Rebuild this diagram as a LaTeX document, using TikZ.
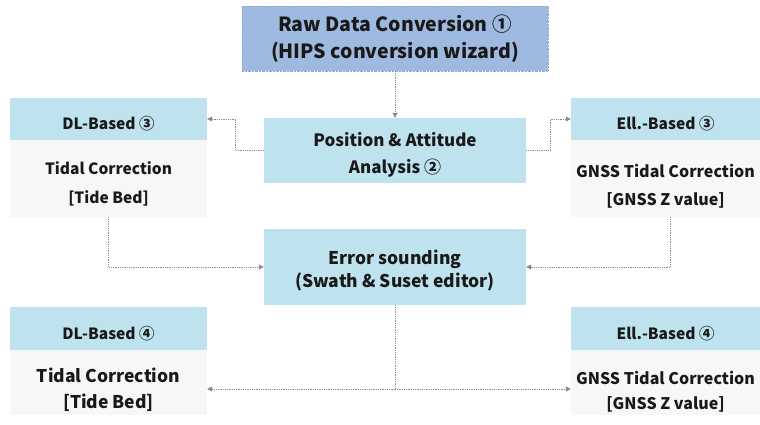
\documentclass[tikz,border=0pt]{standalone}
\usepackage{fontspec}
\setmainfont{Noto Sans CJK KR}
\usetikzlibrary{arrows.meta}
\definecolor{rawblue}{HTML}{9FBAE0}
\definecolor{lightcyan}{HTML}{BEE3EE}
\definecolor{bodygray}{HTML}{F7F7F7}
\definecolor{linegray}{HTML}{8A8A8A}
\tikzset{
  rawbox/.style={fill=rawblue, draw=rawblue!70!gray, densely dotted, inner sep=0pt, align=center, text=black!90},
  midbox/.style={fill=lightcyan, draw=none, inner sep=0pt},
  headbox/.style={fill=lightcyan, draw=none, inner sep=0pt},
  headtxt/.style={inner sep=0pt, align=center, font=\fontsize{15.5}{17}\selectfont\bfseries, text=black!90},
  bodybox/.style={fill=bodygray, draw=none, inner sep=0pt},
  txt/.style={inner sep=0pt, align=center, text=black!90},
  conn/.style={draw=linegray, densely dotted, line width=0.8pt, -{Triangle[length=5pt,width=5pt,fill=linegray]}},
  plain/.style={draw=linegray, densely dotted, line width=0.8pt}
}
\begin{document}
\begin{tikzpicture}[x=1pt,y=-1pt]
\useasboundingbox[fill=white] (0,0) rectangle (760,424);
% boxes
\node[rawbox, minimum width=306, minimum height=65, font=\fontsize{19.5}{27}\selectfont\bfseries] (raw) at (395,38.5) {Raw Data Conversion ①\\(HIPS conversion wizard)};
\node[midbox, minimum width=262, minimum height=65] (pos) at (395,150.5) {};
\node[txt, font=\fontsize{17}{27}\selectfont\bfseries] (post) at (395,155) {Position \& Attitude\\Analysis ②};
\node[midbox, minimum width=262, minimum height=76] (err) at (395,267) {};
\node[txt, font=\fontsize{17.5}{23}\selectfont\bfseries] (errt) at (395,271) {Error sounding\\(Swath \& Suset editor)};
% DL 3
\node[headbox, minimum width=197, minimum height=42] (dl3h) at (108.5,119) {};
\node[headtxt] (dl3ht) at (108.5,123.5) {DL-Based ③};
\node[bodybox, minimum width=197, minimum height=77] (dl3b) at (108.5,178.5) {};
\node[txt, font=\fontsize{15.5}{29}\selectfont\bfseries] (dl3t) at (108.5,184) {Tidal Correction\\{}[Tide Bed]};
% Ell 3
\node[headbox, minimum width=189, minimum height=42] (el3h) at (665.5,119) {};
\node[headtxt] (el3ht) at (665.5,124) {Ell.-Based ③};
\node[bodybox, minimum width=189, minimum height=77] (el3b) at (665.5,178.5) {};
\node[txt, font=\fontsize{16}{28}\selectfont\bfseries] (el3t) at (665.5,186.5) {GNSS Tidal Correction\\{}[GNSS Z value]};
% DL 4
\node[headbox, minimum width=197, minimum height=43] (dl4h) at (108.5,328.5) {};
\node[headtxt] (dl4ht) at (108.5,334) {DL-Based ④};
\node[bodybox, minimum width=197, minimum height=65] (dl4b) at (108.5,382.5) {};
\node[txt, font=\fontsize{17.5}{26}\selectfont\bfseries] (dl4t) at (108.5,390) {Tidal Correction\\{}[Tide Bed]};
% Ell 4
\node[headbox, minimum width=189, minimum height=43] (el4h) at (665.5,328.5) {};
\node[headtxt] (el4ht) at (665.5,334) {Ell.-Based ④};
\node[bodybox, minimum width=189, minimum height=65] (el4b) at (665.5,382.5) {};
\node[txt, font=\fontsize{16}{25}\selectfont\bfseries] (el4t) at (665.5,392) {GNSS Tidal Correction\\{}[GNSS Z value]};
% connectors
\draw[conn] (raw.south) -- (pos.north);
\draw[conn] (pos.west) -- ++(-28,0) |- (dl3h.east);
\draw[conn] (pos.east) -- ++(24,0) |- (el3h.west);
\draw[conn] (dl3b.south) |- (err.west);
\draw[conn] ([xshift=5pt]el3b.south) |- (err.east);
\coordinate (split) at (395,389);
\draw[plain] (err.south) -- (split);
\draw[conn] (split) -- (split -| dl4b.east);
\draw[conn] (split) -- (split -| el4b.west);
\end{tikzpicture}
\end{document}
